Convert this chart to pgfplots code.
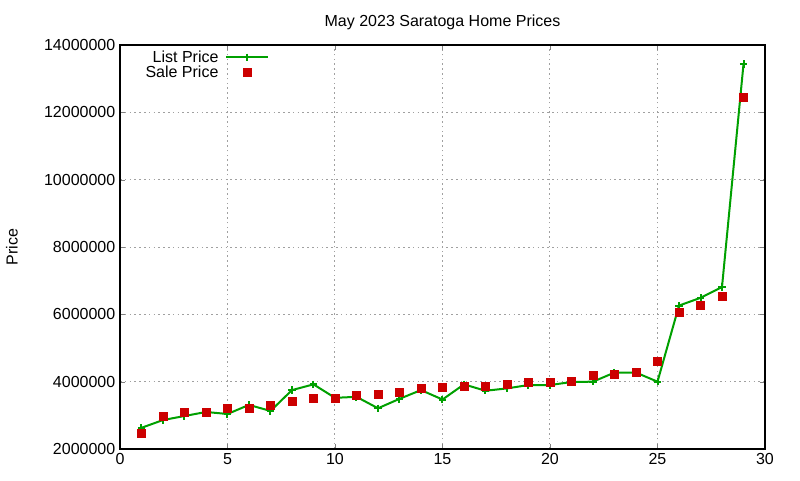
\documentclass[border=0pt]{standalone}
\usepackage{pgfplots}
\pgfplotsset{compat=1.18}
\usepackage{pgfplotstable}
\usepackage{fontspec}
\setmainfont{Liberation Sans}

\definecolor{listgreen}{RGB}{0,160,0}
\definecolor{salered}{RGB}{204,0,0}
\definecolor{gridgray}{RGB}{160,160,160}

% day, list price, sale price
\pgfplotstableread{
day list sale
1 2630000 2480000
2 2860000 2980000
3 2980000 3100000
4 3100000 3100000
5 3040000 3220000
6 3310000 3220000
7 3130000 3290000
8 3750000 3410000
9 3920000 3510000
10 3520000 3520000
11 3550000 3610000
12 3210000 3640000
13 3490000 3700000
14 3750000 3790000
15 3470000 3820000
16 3920000 3850000
17 3730000 3850000
18 3800000 3910000
19 3900000 3970000
20 3900000 3970000
21 3990000 4000000
22 4000000 4180000
23 4270000 4210000
24 4270000 4270000
25 4000000 4610000
26 6260000 6050000
27 6490000 6260000
28 6810000 6550000
29 13430000 12460000
}\prices

\begin{document}
\begin{tikzpicture}
\path[use as bounding box] (-90pt,-23.25pt) rectangle (510pt,336.75pt);
\begin{axis}[
  scale only axis,
  width=483.75pt,
  height=303pt,
  xmin=0, xmax=30,
  ymin=2000000, ymax=14000000,
  xtick={0,5,...,30},
  ytick={2000000,4000000,...,14000000},
  scaled y ticks=false,
  yticklabel style={/pgf/number format/fixed,/pgf/number format/1000 sep={}},
  /pgf/number format/assume math mode=true,
  tick label style={font=\fontsize{12pt}{14pt}\selectfont},
  tick align=inside,
  major tick length=3.75pt,
  axis line style={line width=0.8pt},
  grid=major,
  major grid style={gridgray, line width=0.75pt, dash pattern=on 1.2pt off 2.4pt},
  title={May 2023 Saratoga Home Prices},
  title style={at={(axis description cs:0.5,1.037)}, anchor=center, yshift=0pt, font=\fontsize{12pt}{14pt}\selectfont},
  ylabel={Price},
  every axis y label/.style={at={(axis description cs:-0.1674,0.5)}, rotate=90, anchor=center, font=\fontsize{12pt}{14pt}\selectfont},
  legend style={draw=none, fill=none, at={(axis description cs:0.033,0.997)}, anchor=north west,
    font=\fontsize{12pt}{14pt}\selectfont, row sep=-3pt, column sep=3pt, inner sep=1pt},
  legend cell align=right,
  legend plot pos=right,
]
\addplot[listgreen, line width=1.5pt, mark=+, mark size=2.8pt,
  legend image code/.code={\draw[mark repeat=2,mark phase=2] plot coordinates {(0cm,0cm) (0.55cm,0cm) (1.1cm,0cm)};}]
  table[x=day, y=list] {\prices};
\addlegendentry{List Price}
\addplot[only marks, salered, mark=square*, mark size=3pt,
  legend image code/.code={\draw plot coordinates {(0.55cm,0cm)};}]
  table[x=day, y=sale] {\prices};
\addlegendentry{Sale Price}
\end{axis}
\end{tikzpicture}
\end{document}
